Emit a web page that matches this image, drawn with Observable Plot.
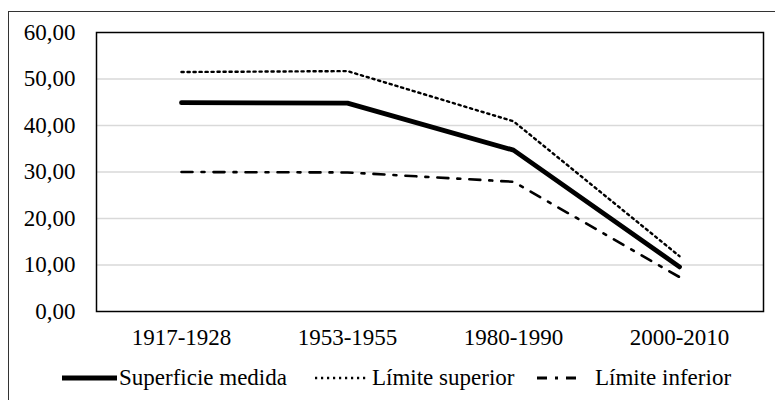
<!DOCTYPE html>
<html>
<head>
<meta charset="utf-8">
<script src="https://cdn.jsdelivr.net/npm/d3@7"></script>
<script src="https://cdn.jsdelivr.net/npm/@observablehq/plot@0.6"></script>
<style>
  html, body { margin: 0; padding: 0; background: #fff; overflow: hidden; }
  body { width: 775px; height: 400px; position: relative; font-family: "Liberation Serif", "Times New Roman", serif; }
  #outer { position: absolute; left: 8px; top: 11px; width: 820px; height: 420px; border: 1.3px solid #333; box-sizing: border-box; }
  #chart { position: absolute; left: 0; top: 0; }
  .leg { position: absolute; top: 366px; height: 24px; display: flex; align-items: center; font-size: 23px; color: #000; white-space: nowrap; }
  .leg svg { display: block; }
</style>
</head>
<body>
<div id="outer"></div>
<div id="chart"></div>
<div class="leg" id="leg1" style="left:62px"></div>
<div class="leg" id="leg2" style="left:315px"></div>
<div class="leg" id="leg3" style="left:537px"></div>
<script>
const periods = ["1917-1928", "1953-1955", "1980-1990", "2000-2010"];
const superficie = [44.9, 44.8, 34.7, 9.6];
const limSuperior = [51.5, 51.7, 40.9, 11.9];
const limInferior = [30.0, 29.9, 27.9, 7.4];
const yTicks = [0, 10, 20, 30, 40, 50, 60];
const seriesNames = ["Superficie medida", "Límite superior", "Límite inferior"];

const toRows = (vals) => periods.map((p, i) => ({ period: p, value: vals[i] }));
const fmt = (d) => d.toFixed(2).replace(".", ",");

const plot = Plot.plot({
  width: 775,
  height: 360,
  marginLeft: 96,
  marginRight: 12,
  marginTop: 32,
  marginBottom: 49,
  style: { fontFamily: "'Liberation Serif', 'Times New Roman', serif", fontSize: "23px", color: "#000", background: "transparent" },
  x: { type: "point", domain: periods, padding: 0.5, label: null, tickSize: 0, tickPadding: 17 },
  y: { domain: [0, 60], ticks: yTicks, tickFormat: fmt, label: null, tickSize: 0, tickPadding: 21 },
  marks: [
    Plot.ruleY(yTicks.filter(t => t > 0 && t < 60), { stroke: "#d9d9d9", strokeWidth: 1.5 }),
    Plot.line(toRows(limInferior), { x: "period", y: "value", stroke: "#000", strokeWidth: 2.6, strokeDasharray: "11,9,3,9" }),
    Plot.line(toRows(limSuperior), { x: "period", y: "value", stroke: "#000", strokeWidth: 2.4, strokeDasharray: "2.2,3.8" }),
    Plot.line(toRows(superficie), { x: "period", y: "value", stroke: "#000", strokeWidth: 4.8, strokeLinecap: "round", strokeLinejoin: "round" }),
    Plot.frame({ stroke: "#000", strokeWidth: 1.5 })
  ]
});
document.getElementById("chart").appendChild(plot);

function legendItem(id, w, gap, attrs, label) {
  const el = document.getElementById(id);
  const ns = "http://www.w3.org/2000/svg";
  const svg = document.createElementNS(ns, "svg");
  svg.setAttribute("width", w);
  svg.setAttribute("height", 24);
  const ln = document.createElementNS(ns, "line");
  ln.setAttribute("x1", 0); ln.setAttribute("x2", w);
  ln.setAttribute("y1", 12); ln.setAttribute("y2", 12);
  ln.setAttribute("stroke", "#000");
  for (const k in attrs) ln.setAttribute(k, attrs[k]);
  svg.appendChild(ln);
  el.appendChild(svg);
  const sp = document.createElement("span");
  sp.textContent = label;
  sp.style.marginLeft = gap + "px";
  el.appendChild(sp);
}
legendItem("leg1", 55, 2, { "stroke-width": 5, "stroke-linecap": "round" }, seriesNames[0]);
legendItem("leg2", 53, 4, { "stroke-width": 2.4, "stroke-dasharray": "2.2,3.8" }, seriesNames[1]);
legendItem("leg3", 43, 15, { "stroke-width": 3, "stroke-dasharray": "10,8,3,8,10" }, seriesNames[2]);
</script>
</body>
</html>
